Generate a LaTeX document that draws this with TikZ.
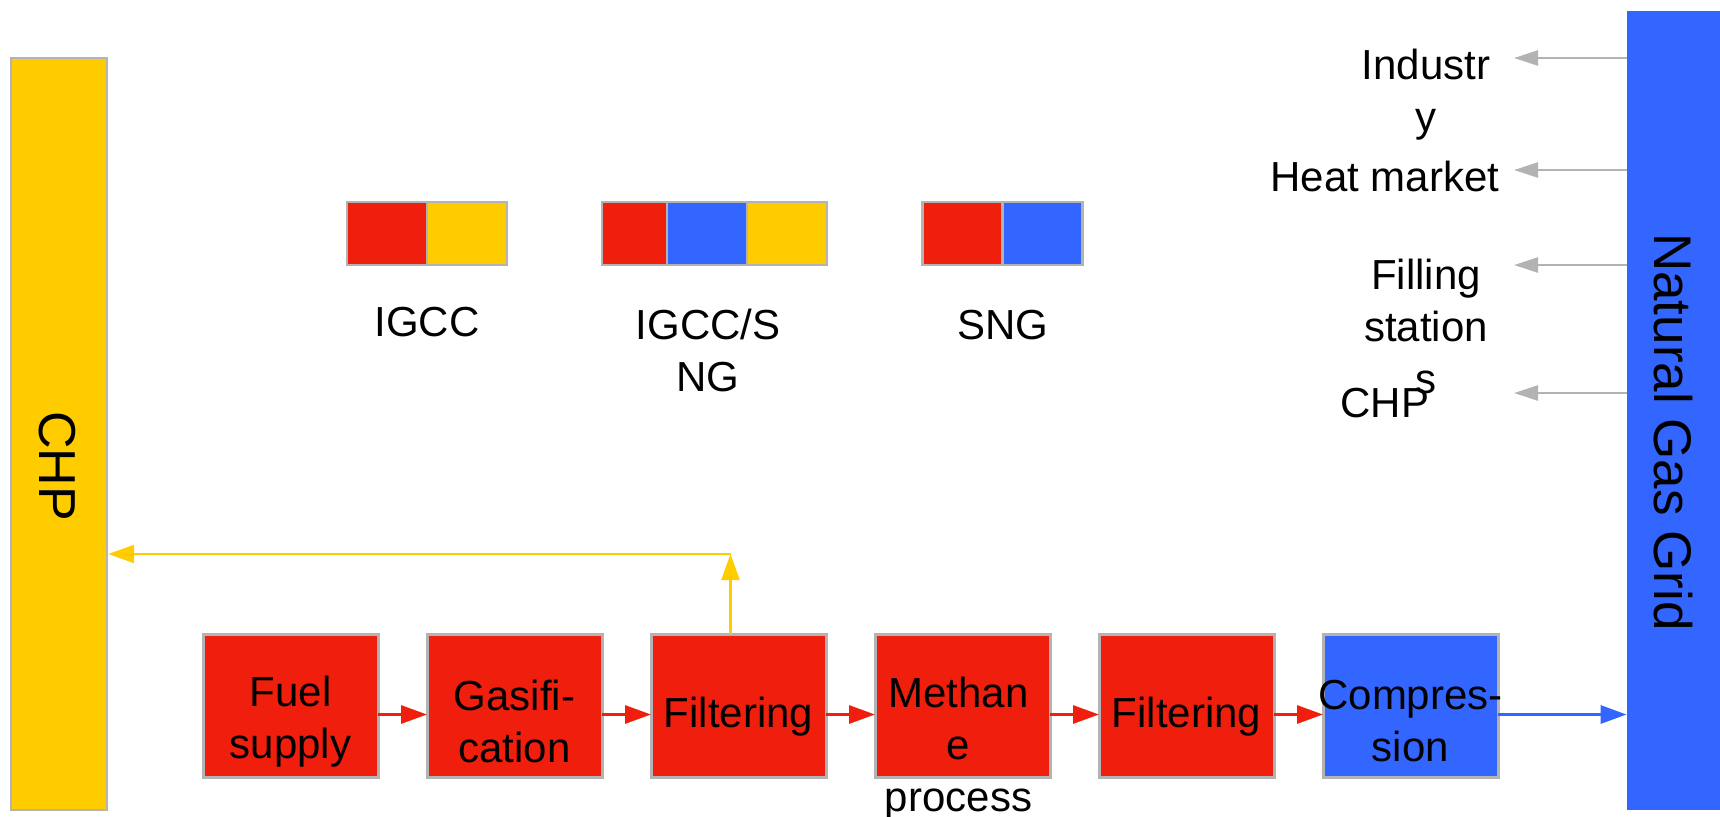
\documentclass[tikz,border=0pt]{standalone}
\usepackage{fontspec}
\setmainfont{Liberation Sans}
\usetikzlibrary{positioning,arrows.meta}
\definecolor{procred}{HTML}{F01E0C}
\definecolor{gridblue}{HTML}{3366FF}
\definecolor{chpyellow}{HTML}{FFCC00}
\definecolor{edgegray}{HTML}{B3B3B3}

\tikzset{
  txt/.style={font=\fontsize{21}{26}\selectfont, align=center, inner sep=0pt},
  procbox/.style={rectangle, draw=edgegray, line width=1.5pt, fill=procred,
    minimum width=87.5pt, minimum height=71.5pt, inner sep=0pt, outer sep=0pt},
  cell/.style={rectangle, draw=edgegray, line width=1.2pt, minimum height=31.5pt,
    minimum width=40pt, inner sep=0pt, outer sep=0pt},
  flow/.style={-{Triangle[length=13pt,width=9pt]}, line width=1.5pt},
  outlink/.style={-{Triangle[length=12pt,width=7.5pt]}, line width=1.2pt, draw=edgegray},
}

\begin{document}
\begin{tikzpicture}[x=0.5pt,y=-0.5pt]
\useasboundingbox (0,0) rectangle (1720,816);

\node[rectangle, draw=edgegray, line width=1.2pt, fill=chpyellow, minimum width=48pt,
  minimum height=376pt, inner sep=0pt] (chp) at (59,434) {};
\node[txt, font=\fontsize{26}{30}\selectfont, rotate=-90] (chplabel) at (57,466) {CHP};
\node[rectangle, fill=gridblue, minimum width=46.5pt, minimum height=399.5pt,
  inner sep=0pt] (ngg) at (1673.5,410.5) {};
\node[txt, font=\fontsize{26.5}{30}\selectfont, rotate=-90] (ngglabel) at (1673,432) {Natural Gas Grid};

\node[procbox] (fuel) at (290.5,705.5) {};
\node[procbox, right=24.5pt of fuel] (gasif) {};
\node[procbox, right=24.5pt of gasif] (filtA) {};
\node[procbox, right=24.5pt of filtA] (meth) {};
\node[procbox, right=24.5pt of meth] (filtB) {};
\node[procbox, fill=gridblue, right=24.5pt of filtB] (comp) {};

\node[txt] (fuellabel) at ([yshift=-8pt]fuel.center) {Fuel\\supply};
\node[txt] (gasiflabel) at ([yshift=-8pt]gasif.center) {Gasifi-\\cation};
\node[txt] (filtAlabel) at ([yshift=-5.5pt]filtA.center) {Filtering};
\node[txt] (methlabel) at ([xshift=-2pt,yshift=-21.5pt]meth.center) {Methan\\e\\process};
\node[txt] (filtBlabel) at ([yshift=-5.5pt]filtB.center) {Filtering};
\node[txt] (complabel) at ([yshift=-8pt]comp.center) {Compres-\\sion};

\draw[flow, procred] ([yshift=-4.5pt]fuel.east) -- ([yshift=-4.5pt]gasif.west);
\draw[flow, procred] ([yshift=-4.5pt]gasif.east) -- ([yshift=-4.5pt]filtA.west);
\draw[flow, procred] ([yshift=-4.5pt]filtA.east) -- ([yshift=-4.5pt]meth.west);
\draw[flow, procred] ([yshift=-4.5pt]meth.east) -- ([yshift=-4.5pt]filtB.west);
\draw[flow, procred] ([yshift=-4.5pt]filtB.east) -- ([yshift=-4.5pt]comp.west);
\draw[flow, gridblue] ([yshift=-4.5pt]comp.east) -- ([yshift=-4.5pt]comp.east -| ngg.west);

\coordinate (tee) at ([xshift=-4pt,yshift=40pt]filtA.north);
\draw[flow, chpyellow, line width=1.2pt] (tee |- filtA.north) -- (tee);
\draw[flow, chpyellow, line width=1.2pt] (tee) -- (tee -| chp.east);

\node[cell, fill=procred] (igccA) at (387,233.5) {};
\node[cell, fill=chpyellow, right=0pt of igccA] (igccB) {};
\node[txt] (igcclabel) at (427,322) {IGCC};

\node[cell, fill=procred, minimum width=32.5pt] (mixA) at (634.5,233.5) {};
\node[cell, fill=gridblue, right=0pt of mixA] (mixB) {};
\node[cell, fill=chpyellow, right=0pt of mixB] (mixC) {};
\node[txt] (mixlabel) at (708,350) {IGCC/S\\NG};

\node[cell, fill=procred] (sngA) at (962.5,233.5) {};
\node[cell, fill=gridblue, right=0pt of sngA] (sngB) {};
\node[txt] (snglabel) at (1003,325) {SNG};

\node[txt] (industry) at (1426,95) {Industr\\y};
\node[txt] (heat) at (1385,176) {Heat market};
\node[txt] (filling) at (1426,326) {Filling\\station\\s};
\node[txt] (chpuse) at (1385,403) {CHP};

\coordinate (industryend) at (1514,58);
\coordinate (heatend) at (1514,170);
\coordinate (fillingend) at (1514,265);
\coordinate (chpuseend) at (1514,393);
\draw[outlink] (industryend -| ngg.west) -- (industryend);
\draw[outlink] (heatend -| ngg.west) -- (heatend);
\draw[outlink] (fillingend -| ngg.west) -- (fillingend);
\draw[outlink] (chpuseend -| ngg.west) -- (chpuseend);
\end{tikzpicture}
\end{document}
